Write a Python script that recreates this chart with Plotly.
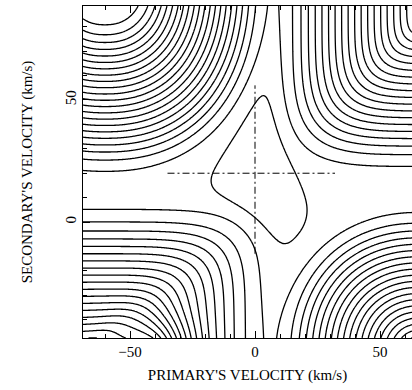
import numpy as np
import plotly.graph_objects as go

# Axis extents and ticks (km/s)
X_RANGE = [-68.8, 62.8]
Y_RANGE = [-47.5, 88.5]
X_TICKS = [-50, 0, 50]
X_TICK_TEXT = ["\u221250", "0", "50"]
Y_TICKS = [0, 50]
Y_TICK_TEXT = ["0", "50"]
MINOR_X_TICKS = [-60, -40, -30, -20, -10, 10, 20, 30, 40, 60]
MINOR_Y_TICKS = [-40, -30, -20, -10, 10, 20, 30, 40, 60, 70, 80]

# Correlation surface: basins toward the corners of the velocity plane
# (upper-left, upper-right, lower-left, lower-right, lower-left secondary dip)
BASIN_CX = [-60.0, 76.0, -72.0, 66.0, -40.0]
BASIN_CY = [100.0, 92.0, -56.0, -54.0, -54.0]
BASIN_AX = [2.08, 2.6, 3.52, 2.4, 2.8]       # km/s per contour step
BASIN_AY = [2.57, 2.75, 2.9, 2.5, 2.8]
BASIN_RIM = [30.35, 24.75, 20.65, 22.75, 6.3]  # contour steps from centre to rim
BASIN_FLOOR = [22.9, 60.0, 60.0, 60.0, 60.0]   # maximum depth in contour steps
BASIN_SHAPE = [2.3, 5.0, 6.0, 2.2, 2.0]        # exponent of the basin norm
RIM_SOFTNESS = 1.5
PLATEAU_LEVEL = 0.35

# Central correlation peak, outlined by its corner points (km/s)
PEAK_V1 = [4.5, -18.5, 12.0, 21.0]
PEAK_V2 = [58.5, 14.5, -11.5, 1.0]
PEAK_HEIGHT = 0.65
PEAK_EDGE = 0.5   # 1/(km/s)

# Contour levels
LEVEL_START, LEVEL_END, LEVEL_STEP = -40.5, 0.5, 1.0

# Best-fit velocities and the span of the cross-hair lines
SOLUTION_V1 = 0.0
SOLUTION_V2 = 20.0
CROSS_V2_SPAN = [-13.0, 56.0]
CROSS_V1_SPAN = [-35.0, 32.0]

x = np.linspace(X_RANGE[0], X_RANGE[1], 331)
y = np.linspace(Y_RANGE[0], Y_RANGE[1], 341)
X, Y = np.meshgrid(x, y)


def softplus(u, s=RIM_SOFTNESS):
    return s * np.logaddexp(0.0, u / s)


surface = np.full_like(X, PLATEAU_LEVEL)
for cx, cy, ax, ay, rim, floor, p in zip(BASIN_CX, BASIN_CY, BASIN_AX, BASIN_AY,
                                         BASIN_RIM, BASIN_FLOOR, BASIN_SHAPE):
    r = ((np.abs(X - cx) / ax) ** p + (np.abs(Y - cy) / ay) ** p) ** (1.0 / p)
    surface -= softplus(rim - r) - softplus(rim - r - floor)

# peak: product of soft half-planes along the outline edges
envelope = np.ones_like(X)
n = len(PEAK_V1)
for i in range(n):
    px, py = PEAK_V1[i], PEAK_V2[i]
    qx, qy = PEAK_V1[(i + 1) % n], PEAK_V2[(i + 1) % n]
    length = np.hypot(qx - px, qy - py)
    inside = ((qx - px) * (Y - py) - (qy - py) * (X - px)) / length
    envelope *= 1.0 / (1.0 + np.exp(-PEAK_EDGE * inside))
surface += PEAK_HEIGHT * envelope

fig = go.Figure()
fig.add_trace(go.Contour(
    x=x, y=y, z=surface,
    contours=dict(start=LEVEL_START, end=LEVEL_END, size=LEVEL_STEP, coloring="lines"),
    colorscale=[[0, "black"], [1, "black"]],
    line=dict(width=1.3, color="black"),
    showscale=False, hoverinfo="skip",
))
dash = "7px,3px,2px,3px"
fig.add_trace(go.Scatter(
    x=[SOLUTION_V1, SOLUTION_V1], y=CROSS_V2_SPAN, mode="lines",
    line=dict(color="black", width=1, dash=dash), showlegend=False,
))
fig.add_trace(go.Scatter(
    x=CROSS_V1_SPAN, y=[SOLUTION_V2, SOLUTION_V2], mode="lines",
    line=dict(color="black", width=1, dash=dash), showlegend=False,
))

tick_font = dict(family="Liberation Serif", size=15, color="black")
title_font = dict(family="Liberation Serif", size=15, color="black")
fig.update_layout(
    width=412, height=390,
    margin=dict(l=83, r=0, t=6, b=52),
    plot_bgcolor="white", paper_bgcolor="white",
    font=tick_font, showlegend=False,
)
fig.update_xaxes(
    range=X_RANGE, tickmode="array", tickvals=X_TICKS, ticktext=X_TICK_TEXT,
    tickfont=tick_font, ticks="inside", ticklen=7, tickcolor="black",
    showgrid=False, zeroline=False,
    showline=True, linecolor="black", linewidth=1.3, mirror="ticks",
    minor=dict(tickvals=MINOR_X_TICKS, ticks="inside", ticklen=4, tickcolor="black"),
    title=dict(text="PRIMARY'S VELOCITY (km/s)", font=title_font, standoff=10),
)
fig.update_yaxes(
    range=Y_RANGE, tickmode="array", tickvals=Y_TICKS, ticktext=Y_TICK_TEXT,
    tickfont=tick_font, tickangle=-90, ticks="inside", ticklen=7, tickcolor="black",
    showgrid=False, zeroline=False,
    showline=True, linecolor="black", linewidth=1.3,
    minor=dict(tickvals=MINOR_Y_TICKS, ticks="inside", ticklen=4, tickcolor="black"),
    title=dict(text="SECONDARY'S VELOCITY (km/s)", font=title_font, standoff=26),
)

fig.write_html("out.html")
